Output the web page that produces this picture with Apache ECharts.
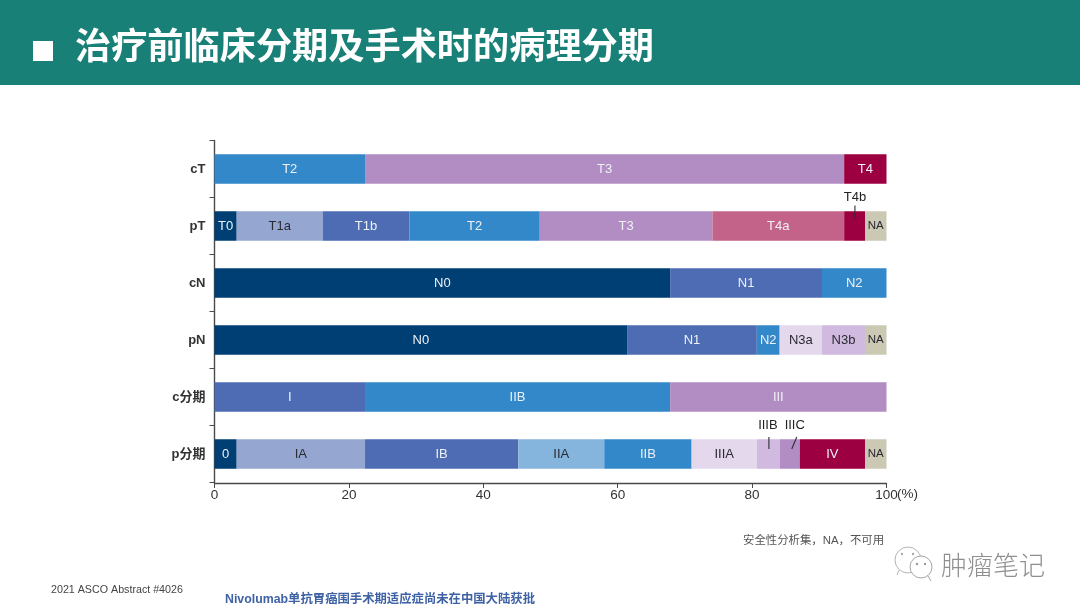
<!DOCTYPE html>
<html><head><meta charset="utf-8">
<style>html,body{margin:0;padding:0;background:#fff}#c{width:1080px;height:612px;filter:blur(0.35px)}</style>
<script src="https://cdn.jsdelivr.net/npm/echarts@6/dist/echarts.min.js"></script>
</head><body><div id="c"></div>
<script>
const categories = ['cT','pT','cN','pN','c分期','p分期'];
const cTStages = ['T2','T3','T4'];
const cTValues = [22.4,71.3,6.3];
const pTStages = ['T0','T1a','T1b','T2','T3','T4a','T4b','NA'];
const pTValues = [3.3,12.8,12.9,19.4,25.7,19.6,3.1,3.2];
const cNStages = ['N0','N1','N2'];
const cNValues = [67.8,22.6,9.6];
const pNStages = ['N0','N1','N2','N3a','N3b','NA'];
const pNValues = [61.4,19.3,3.4,6.3,6.4,3.2];
const cStageStages = ['I','IIB','III'];
const cStageValues = [22.4,45.4,32.2];
const pStageStages = ['0','IA','IB','IIA','IIB','IIIA','IIIB','IIIC','IV','NA'];
const pStageValues = [3.3,19.1,22.8,12.8,13,9.7,3.4,3,9.7,3.2];
const xTicks = [0,20,40,60,80,100];
const calloutLabels = ['T4b','IIIB','IIIC'];
const calloutRows = ['pT','p分期','p分期'];
const calloutValues = [95.3,82.5,85.9];

const rows = [
  [cTStages,cTValues],[pTStages,pTValues],[cNStages,cNValues],
  [pNStages,pNValues],[cStageStages,cStageValues],[pStageStages,pStageValues]
];
const navy='#003f73',periw='#95a7d1',blue='#4d6cb3',sky='#3388c9',pale='#85b5dd',
      purple='#b28dc3',rose='#c36389',wine='#9c0040',sand='#cbc8b4',lilac='#e4d8ec',mauve='#d0bae0';
const colorMap = {T0:navy,T1a:periw,T1b:blue,T2:sky,T3:purple,T4:wine,T4a:rose,T4b:wine,NA:sand,
  N0:navy,N1:blue,N2:sky,N3a:lilac,N3b:mauve,I:blue,III:purple,'0':navy,IA:periw,IB:blue,IIA:pale,IIB:sky,
  IIIA:lilac,IIIB:mauve,IIIC:purple,IV:wine};
const darkText = new Set(['T1a','NA','N3a','N3b','IA','IIA','IIIA']);
const hidden = new Set(['T4b','IIIB','IIIC']);
const LATIN='"Liberation Sans",Arial,"Noto Sans CJK SC",sans-serif';

const series = [];
rows.forEach((r,ri)=>{
  r[0].forEach((name,si)=>{
    const data = categories.map((_,i)=> i===ri ? r[1][si] : null);
    series.push({
      type:'bar', stack:'total', name:name+'-'+ri, barWidth:29.5, data,
      itemStyle:{color:colorMap[name]}, silent:true,
      label:{show:!hidden.has(name),position:'inside',formatter:name,
        fontFamily:LATIN,fontSize:name==='NA'?11.5:13,
        color:darkText.has(name)?'#2a2a32':'#eef1f6',textBorderWidth:0}
    });
  });
});
series.push({
  type:'custom', coordinateSystem:'cartesian2d', silent:true, clip:false, z:10,
  data: calloutLabels.map((l,i)=>[calloutValues[i],calloutRows[i],l]),
  renderItem:(p,api)=>{
    const pt=api.coord([api.value(0),api.value(1)]);
    const l=calloutLabels[p.dataIndex];
    const isT=l==='T4b';
    const lean=l==='IIIC'?5:0;
    const tx=isT?pt[0]:(l==='IIIB'?pt[0]-1:pt[0]+3);
    const y1=isT?pt[1]-7.5:pt[1]-5, y2=isT?pt[1]-20.5:pt[1]-17;
    const ty=pt[1]-28.5;
    return {type:'group',children:[
      {type:'line',shape:{x1:pt[0],y1,x2:pt[0]+lean,y2},style:{stroke:'#2d2d33',lineWidth:1.1}},
      {type:'text',style:{x:tx,y:ty,text:l,align:'center',verticalAlign:'middle',fontFamily:LATIN,fontSize:13,fill:'#222'}}
    ]};
  }
});

const chart = echarts.init(document.getElementById('c'),null,{renderer:'canvas'});
chart.setOption({
  animation:false,
  backgroundColor:'#fff',
  grid:{left:214.5,right:193.5,top:140.5,bottom:129.5,containLabel:false},
  xAxis:{type:'value',min:0,max:100,interval:20,offset:0.5,
    axisLine:{show:true,lineStyle:{color:'#4a4a4a',width:1.4}},
    axisTick:{show:true,length:5,inside:false,lineStyle:{color:'#4a4a4a',width:1}},
    splitLine:{show:false},
    axisLabel:{margin:6,fontFamily:LATIN,fontSize:13.5,color:'#333',
      formatter:v=>xTicks.includes(v)?String(v):'',showMaxLabel:true,hideOverlap:false},
    name:'(%)',nameLocation:'end',nameGap:10.5,nameMoveOverlap:false,
    nameTextStyle:{fontFamily:LATIN,fontSize:13.5,color:'#333',verticalAlign:'top',padding:[5,0,0,0],align:'left'}
  },
  yAxis:{type:'category',inverse:true,data:categories,
    axisLine:{show:true,lineStyle:{color:'#4a4a4a',width:1.4}},
    axisTick:{show:true,length:5,lineStyle:{color:'#4a4a4a',width:1}},
    axisLabel:{margin:9,fontFamily:LATIN,fontSize:13,fontWeight:'bold',color:'#333'}
  },
  series,
  graphic:[
    {type:'rect',z:-1,shape:{x:0,y:0,width:1080,height:85},style:{fill:'#188077'}},
    {type:'rect',shape:{x:33,y:41,width:20,height:20},style:{fill:'#fff'}},
    {type:'text',style:{x:75,y:45,text:'治疗前临床分期及手术时的病理分期',verticalAlign:'middle',
      fontFamily:'"Noto Sans CJK SC",sans-serif',fontWeight:'bold',fontSize:36.2,fill:'#fff'}},
    {type:'text',style:{x:743,y:541,text:'安全性分析集，NA，不可用',verticalAlign:'middle',
      fontFamily:LATIN,fontSize:11.4,fill:'#555'}},
    {type:'text',style:{x:51,y:590,text:'2021 ASCO Abstract #4026',verticalAlign:'middle',
      fontFamily:LATIN,fontSize:10.7,fill:'#444'}},
    {type:'text',style:{x:225,y:600,text:'Nivolumab单抗胃癌围手术期适应症尚未在中国大陆获批',verticalAlign:'middle',
      fontFamily:LATIN,fontWeight:'bold',fontSize:12.35,fill:'#3f62a5'}},
    {type:'text',style:{x:941,y:565,text:'肿瘤笔记',verticalAlign:'middle',
      fontFamily:'"Noto Sans CJK SC",sans-serif',fontWeight:'300',fontSize:26,fill:'#8f8f8f'}},
    {type:'circle',shape:{cx:908,cy:560,r:13},style:{fill:'#fff',stroke:'#b5b5b5',lineWidth:1}},
    {type:'line',shape:{x1:899,y1:570,x2:897,y2:575},style:{stroke:'#b5b5b5',lineWidth:1}},
    {type:'circle',shape:{cx:921,cy:567,r:11},style:{fill:'#fff',stroke:'#a5a5a5',lineWidth:1}},
    {type:'line',shape:{x1:928,y1:576,x2:931,y2:581},style:{stroke:'#a5a5a5',lineWidth:1}},
    {type:'circle',shape:{cx:902,cy:554,r:1.2},style:{fill:'#aaa'}},
    {type:'circle',shape:{cx:913,cy:554,r:1.2},style:{fill:'#aaa'}},
    {type:'circle',shape:{cx:917,cy:564,r:1.2},style:{fill:'#999'}},
    {type:'circle',shape:{cx:925,cy:564,r:1.2},style:{fill:'#999'}}
  ]
});
</script></body></html>
